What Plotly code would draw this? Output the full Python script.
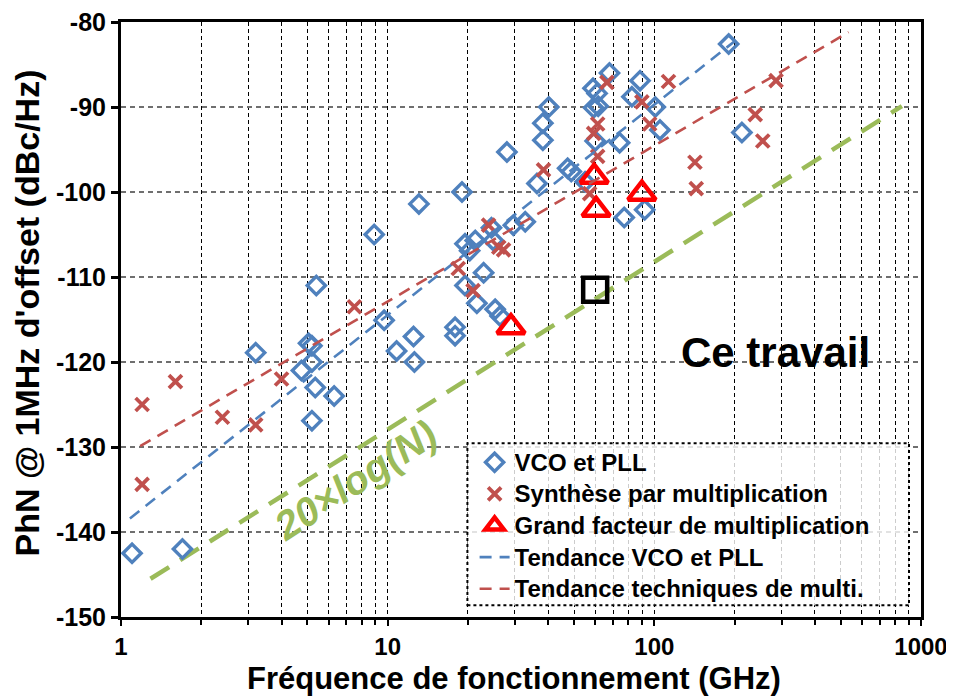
import plotly.graph_objects as go

# ---------------- data ----------------
vco_freq = [1.1, 1.7, 3.2, 5.05, 5.2, 5.2, 4.75, 5.35, 6.3, 5.2, 5.4, 8.9, 9.7, 10.8,
            12.5, 12.6, 13.1, 17.9, 17.9, 19.0, 19.5, 21.3, 20.3, 19.5, 21.6, 22.9,
            24.5, 24.9, 25.3, 26.4, 29.6, 32.8, 28.0, 36.3, 38.2, 38.2, 40.2, 47.3,
            48.8, 55.0, 58.9, 61.0, 67.9, 59.2, 61.6, 60.0, 74.1, 77.1, 82.4, 88.4,
            92.0, 100.8, 105.0, 190.0, 213.0]
vco_phn = [-142.5, -142.0, -118.9, -117.8, -118.1, -120.0, -121.0, -123.0, -124.0, -126.9,
           -111.0, -105.0, -115.1, -118.7, -117.0, -120.0, -101.4, -115.9, -116.9, -100.0,
           -106.1, -105.7, -106.9, -111.0, -113.1, -109.5, -104.2, -105.7, -113.8, -114.6,
           -103.9, -103.5, -95.3, -99.0, -93.9, -91.9, -90.0, -97.2, -97.6, -98.8, -87.8,
           -88.4, -86.0, -90.1, -89.9, -94.0, -94.2, -103.0, -88.8, -86.9, -102.1, -90.0,
           -92.7, -82.6, -93.0]

mult_freq = [1.2, 1.2, 1.6, 2.4, 3.2, 4.0, 7.5, 18.4, 20.9, 23.9, 26.1, 27.2, 38.4, 57.2,
             61.3, 59.2, 61.3, 66.4, 89.8, 96.0, 113.0, 142.0, 143.6, 239.0, 255.0, 286.0]
mult_phn = [-125.0, -134.4, -122.3, -126.5, -127.4, -122.0, -113.5, -109.0, -111.6, -103.9,
            -106.5, -106.8, -97.4, -100.2, -95.8, -93.1, -92.0, -87.1, -89.4, -92.0, -87.0,
            -96.5, -99.6, -90.9, -94.0, -86.9]

big_freq = [29.0, 59.5, 60.5, 89.8]
big_phn = [-115.9, -98.2, -102.1, -100.2]

this_freq = [60.0]
this_phn = [-111.5]

trend_vco_freq = [1.08, 205.0]
trend_vco_phn = [-138.4, -82.0]
trend_mult_freq = [1.18, 535.0]
trend_mult_phn = [-129.9, -81.2]
n20_freq = [1.29, 848.0]
n20_phn = [-145.5, -89.9]

x_ticks = [1, 10, 100, 1000]
x_minor = [m * d for d in (1, 10, 100) for m in range(2, 10)]
y_ticks = list(range(-150, -79, 10))
y_ticktext = ["-150", "-140", "-130", "-120", "-110", "-100", "-90", "-80"]

BLUE = "#4F81BD"
RED = "#C0504D"
GREEN = "#9BBB59"
FONT = "Liberation Sans, Arial, sans-serif"


def big(name):
    return "<span style='font-size:24px'>" + name + "</span>"


fig = go.Figure()

fig.add_trace(go.Scatter(x=n20_freq, y=n20_phn, mode="lines", showlegend=False,
                         line=dict(color=GREEN, width=4.5, dash="22px,13px")))
fig.add_trace(go.Scatter(x=vco_freq, y=vco_phn, mode="markers", name=big("VCO et PLL"),
                         marker=dict(symbol="diamond-open", size=14, color=BLUE,
                                     line=dict(width=3.4, color=BLUE))))
fig.add_trace(go.Scatter(x=mult_freq, y=mult_phn, mode="markers",
                         name=big("Synthèse par multiplication"),
                         marker=dict(symbol="x-thin-open", size=13, color=RED,
                                     line=dict(width=3.8, color=RED))))
fig.add_trace(go.Scatter(x=big_freq, y=big_phn, mode="markers",
                         name=big("Grand facteur de multiplication"),
                         marker=dict(symbol="triangle-up-open", size=24, color="#FF0000",
                                     line=dict(width=4.5, color="#FF0000"))))
fig.add_trace(go.Scatter(x=trend_vco_freq, y=trend_vco_phn, mode="lines",
                         name=big("Tendance VCO et PLL"),
                         line=dict(color=BLUE, width=2.6, dash="12px,8px")))
fig.add_trace(go.Scatter(x=trend_mult_freq, y=trend_mult_phn, mode="lines",
                         name=big("Tendance techniques de multi."),
                         line=dict(color=RED, width=2.6, dash="12px,8px")))
fig.add_trace(go.Scatter(x=this_freq, y=this_phn, mode="markers", showlegend=False,
                         marker=dict(symbol="square-open", size=24, color="black",
                                     line=dict(width=4.5, color="black"))))

# arrow to "this work"
fig.add_annotation(x=this_freq[0], y=this_phn[0], xref="x", yref="y", text="",
                   showarrow=True, arrowhead=2, arrowsize=1.1, arrowwidth=5,
                   arrowcolor="black", ax=82, ay=51, standoff=24)
fig.add_annotation(x=0.818, y=0.445, xref="paper", yref="paper", text="Ce travail",
                   xanchor="center", yanchor="middle", showarrow=False,
                   font=dict(family=FONT, size=42, color="black", weight="bold"))
fig.add_annotation(x=0.293, y=0.23, xref="paper", yref="paper", text="20×log(N)",
                   xanchor="center", yanchor="middle", showarrow=False, textangle=-33,
                   font=dict(family=FONT, size=40, color=GREEN, style="italic"))

# axis titles
fig.add_annotation(x=0.491, y=-0.104, xref="paper", yref="paper",
                   text="Fréquence de fonctionnement (GHz)",
                   xanchor="center", yanchor="middle", showarrow=False,
                   font=dict(family=FONT, size=31, color="black", weight="bold"))
fig.add_annotation(x=-0.1175, y=0.51, xref="paper", yref="paper",
                   text="PhN @ 1MHz d'offset (dBc/Hz)", textangle=-90,
                   xanchor="center", yanchor="middle", showarrow=False,
                   font=dict(family=FONT, size=34, color="black", weight="bold"))

# legend frame
fig.add_shape(type="rect", xref="paper", yref="paper", x0=0.433, x1=0.985, y0=0.0197, y1=0.292,
              line=dict(color="black", width=2, dash="dot"),
              fillcolor="rgba(255,255,255,0.8)", layer="above")

# the page body adds an 8px offset; size the figure so the plot area lands where the reference has it
fig.update_layout(
    width=946, height=690,
    margin=dict(l=113, r=33, t=14, b=81),
    paper_bgcolor="white", plot_bgcolor="white",
    font=dict(family=FONT, size=24, color="black", weight="bold"),
    showlegend=True,
    legend=dict(x=0.442, y=0.295, xanchor="left", yanchor="top",
                bgcolor="rgba(0,0,0,0)", borderwidth=0,
                font=dict(family=FONT, size=22, color="black", weight="bold"),
                tracegroupgap=0),
)

fig.update_xaxes(
    type="log", range=[0, 3], tickmode="array", tickvals=x_ticks,
    ticktext=[str(v) for v in x_ticks], automargin=False, ticklabeloverflow="allow",
    showline=True, linecolor="black", linewidth=2.5, mirror=True,
    ticks="outside", ticklen=6, tickwidth=2, tickcolor="black",
    showgrid=True, gridcolor="black", gridwidth=1, griddash="4px,3px",
    minor=dict(tickmode="array", tickvals=x_minor, showgrid=True, gridcolor="black",
               gridwidth=1, griddash="4px,3px", ticks="outside", ticklen=5,
               tickwidth=1.5, tickcolor="black"),
    zeroline=False,
    tickfont=dict(family=FONT, size=24, color="black", weight="bold"),
)
fig.update_yaxes(
    range=[-150, -80], tickmode="array", tickvals=y_ticks, ticktext=y_ticktext,
    automargin=False, ticklabeloverflow="allow",
    showline=True, linecolor="black", linewidth=3, mirror=True,
    ticks="outside", ticklen=7, tickwidth=2.5, tickcolor="black",
    showgrid=True, gridcolor="#6f6f6f", gridwidth=1.5, griddash="5px,4px",
    zeroline=False,
    tickfont=dict(family=FONT, size=25, color="black", weight="bold"),
)

fig.write_html("out.html")
